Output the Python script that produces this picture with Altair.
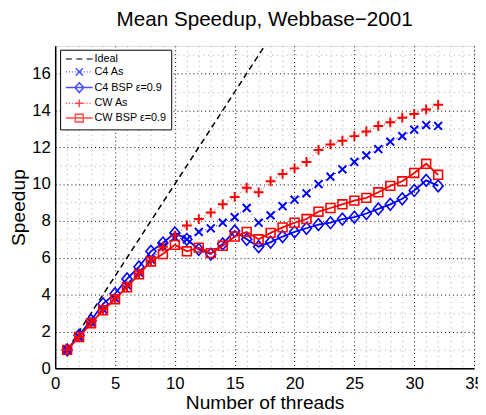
import altair as alt
import pandas as pd

threads = list(range(1, 33))
ideal = [1, 2, 3, 4, 5, 6, 7, 8, 9, 10, 11, 12, 13, 14, 15, 16,
         17, 18, 19, 20, 21, 22, 23, 24, 25, 26, 27, 28, 29, 30, 31, 32]
c4_as = [1.0, 1.7, 2.5, 3.2, 3.8, 4.5, 5.2, 5.9, 6.6, 7.1, 7.0, 7.4, 7.6, 7.9, 8.2, 8.7,
         7.9, 8.3, 8.8, 9.15, 9.5, 10.0, 10.4, 10.8, 11.2, 11.55, 11.9, 12.3, 12.6, 12.95, 13.2, 13.15]
c4_bsp = [1.0, 1.8, 2.6, 3.5, 4.05, 4.85, 5.5, 6.35, 6.8, 7.35, 7.0, 6.45, 6.2, 6.75, 7.45, 7.0,
          6.6, 6.85, 7.15, 7.4, 7.6, 7.8, 7.9, 8.1, 8.2, 8.4, 8.65, 8.9, 9.2, 9.65, 10.2, 9.9]
cw_as = [1.0, 1.7, 2.5, 3.2, 3.8, 4.45, 5.15, 5.85, 6.6, 7.2, 7.75, 8.1, 8.45, 8.9, 9.3, 9.8,
         9.55, 10.15, 10.55, 10.85, 11.2, 11.85, 12.15, 12.35, 12.6, 12.85, 13.15, 13.35, 13.6, 13.8, 14.05, 14.3]
cw_bsp = [1.0, 1.7, 2.45, 3.15, 3.75, 4.4, 5.1, 5.8, 6.2, 6.7, 6.35, 6.55, 6.25, 6.65, 7.15, 7.4,
          7.0, 7.35, 7.65, 7.9, 8.1, 8.5, 8.7, 8.9, 9.1, 9.25, 9.55, 9.9, 10.15, 10.6, 11.1, 10.5]

series_names = ["Ideal", "C4 As", "C4 BSP ε=0.9", "CW As", "CW BSP ε=0.9"]
series_values = [ideal, c4_as, c4_bsp, cw_as, cw_bsp]
series_colors = ["#000000", "#0000ff", "#0000ff", "#ff0000", "#ff0000"]

x_ticks = list(range(0, 36))
y_ticks = list(range(0, 18))

rows = []
for name, vals in zip(series_names, series_values):
    for t, v in zip(threads, vals):
        rows.append({"threads": t, "speedup": v, "series": name})
df = pd.DataFrame(rows)

FONT = "Liberation Sans"

X = alt.X("threads:Q",
          scale=alt.Scale(domain=[0, 35], nice=False, zero=False),
          axis=alt.Axis(values=x_ticks, labelExpr="datum.value % 5 === 0 ? datum.label : ''",
                        title="Number of threads", grid=True,
                        gridColor={"condition": {"test": "datum.value % 5 === 0", "value": "#000000"}, "value": "#aaaaaa"},
                        gridDash={"condition": {"test": "datum.value % 5 === 0", "value": [1, 3]}, "value": [1, 4]},
                        gridWidth=1, tickSize=0, labelOverlap=False, labelFlush=False, labelPadding=8,
                        labelFontSize=17, labelFont=FONT, labelColor="black",
                        titleFont=FONT, titleFontSize=19.5, titleFontWeight="normal", titleColor="black",
                        titlePadding=2, domainColor="black", domainWidth=1.5))
Y = alt.Y("speedup:Q",
          scale=alt.Scale(domain=[0, 17.5], nice=False, zero=False),
          axis=alt.Axis(values=y_ticks, labelExpr="datum.value % 2 === 0 ? datum.label : ''",
                        title="Speedup", grid=True,
                        gridColor={"condition": {"test": "datum.value % 2 === 0", "value": "#000000"}, "value": "#aaaaaa"},
                        gridDash={"condition": {"test": "datum.value % 2 === 0", "value": [1, 3]}, "value": [1, 4]},
                        gridWidth=1, tickSize=0, labelOverlap=False, labelFlush=False, labelPadding=5,
                        labelFontSize=17, labelFont=FONT, labelColor="black",
                        titleFont=FONT, titleFontSize=19.5, titleFontWeight="normal", titleColor="black",
                        titlePadding=3, domainColor="black", domainWidth=1.5))

base = alt.Chart(df)

marker_paths = {
    "C4 As": ("M-1,-1L1,1M-1,1L1,-1", 64, 2),
    "C4 BSP ε=0.9": ("M0,-1L0.85,0L0,1L-0.85,0Z", 144, 1.6),
    "CW As": ("M-1,0L1,0M0,-1L0,1", 100, 2),
    "CW BSP ε=0.9": ("M-1,-1L1,-1L1,1L-1,1Z", 81, 1.6),
}
line_styles = {
    "Ideal": dict(strokeDash=[6, 4], strokeWidth=1.5),
    "C4 As": dict(strokeDash=[1, 3], strokeWidth=1),
    "C4 BSP ε=0.9": dict(strokeWidth=1.8),
    "CW As": dict(strokeDash=[1, 3], strokeWidth=1),
    "CW BSP ε=0.9": dict(strokeWidth=1.8),
}

layers = []
for name, color in zip(series_names, series_colors):
    sub = base.transform_filter(alt.datum.series == name)
    layers.append(sub.mark_line(color=color, clip=True, **line_styles[name]).encode(x=X, y=Y))
    if name in marker_paths:
        path, size, sw = marker_paths[name]
        layers.append(sub.mark_point(shape=path, size=size, filled=False, color=color,
                                     strokeWidth=sw, opacity=1, clip=True).encode(x=X, y=Y))


# legend symbols: unit = 4 px (symbolSize 64)
def dotted(x0=-3.4, x1=3.4, step=0.75, seg=0.25):
    parts = []
    k = x0
    while k < x1:
        parts.append(f"M{k:.2f},0L{min(k + seg, x1):.2f},0")
        k += step
    return "".join(parts)


legend_paths = [
    "M-3.4,0L-1.9,0M-0.75,0L0.75,0M1.9,0L3.4,0",
    dotted() + "M-0.9,-0.9L0.9,0.9M-0.9,0.9L0.9,-0.9",
    "M-3.4,0L3.4,0M0,-1.25L1.1,0L0,1.25L-1.1,0Z",
    dotted() + "M-1,0L1,0M0,-1L0,1",
    "M-3.4,0L3.4,0M-1,-1L1,-1L1,1L-1,1Z",
]

leg = alt.Legend(title=None, orient="none", legendX=5, legendY=4,
                 strokeColor="black", fillColor="white", padding=4, cornerRadius=0,
                 labelFont=FONT, labelFontSize=11, labelColor="black",
                 labelExpr="datum.label + '\u2002\u2002\u2002'",
                 symbolSize=64, symbolStrokeWidth=1.5, symbolOffset=10, labelOffset=10,
                 rowPadding=0)

legend_layer = base.transform_filter("false").mark_point(filled=False, strokeWidth=1.5).encode(
    x=X, y=Y,
    color=alt.Color("series:N", scale=alt.Scale(domain=series_names, range=series_colors), legend=leg),
    shape=alt.Shape("series:N", scale=alt.Scale(domain=series_names, range=legend_paths), legend=leg),
)
layers.append(legend_layer)

chart = alt.layer(*layers).properties(
    width=426, height=328,
    title=alt.TitleParams("Mean Speedup, Webbase−2001", font=FONT, fontSize=21,
                          fontWeight="normal", anchor="middle", color="black", offset=16),
    autosize=alt.AutoSizeParams(type="none"),
    padding={"left": 48, "top": 35, "right": 4, "bottom": 44},
).configure_view(stroke="black", strokeWidth=1.5).configure(background="white")

chart.save("out.html", embed_options={"renderer": "svg", "actions": False})
